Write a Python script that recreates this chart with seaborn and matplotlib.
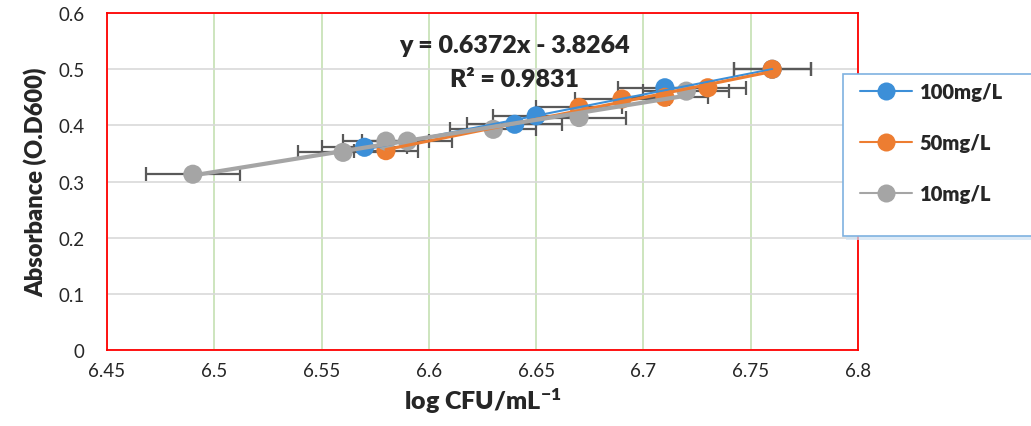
import numpy as np
import pandas as pd
import seaborn as sns
import matplotlib.pyplot as plt
from matplotlib.lines import Line2D
from matplotlib.patches import Rectangle

# data
x_100 = [6.57, 6.64, 6.65, 6.71, 6.76]
y_100 = [0.361, 0.402, 0.417, 0.467, 0.500]
e_100 = [0.020, 0.022, 0.020, 0.022, 0.018]

x_50 = [6.58, 6.67, 6.69, 6.71, 6.73, 6.76]
y_50 = [0.355, 0.432, 0.447, 0.450, 0.467, 0.500]
e_50 = [0.015, 0.020, 0.022, 0.020, 0.018, 0.018]

x_10 = [6.49, 6.56, 6.58, 6.59, 6.63, 6.67, 6.72]
y_10 = [0.313, 0.352, 0.372, 0.372, 0.393, 0.414, 0.461]
e_10 = [0.022, 0.021, 0.020, 0.021, 0.020, 0.022, 0.020]

labels = ["100mg/L", "50mg/L", "10mg/L"]
colors = ["#3c8fd8", "#ed7d31", "#a5a5a5"]
line_w = [1.5, 2.2, 3.0]

equation = "y = 0.6372x - 3.8264"
r2_text = "R² = 0.9831"

sns.set_style("white")
plt.rcParams["font.family"] = ["Lato", "DejaVu Sans"]
plt.rcParams["mathtext.default"] = "regular"

fig = plt.figure(figsize=(10.31, 4.27), dpi=100)
ax = fig.add_axes([0.1038, 0.178, 0.7284, 0.789])

series = [(x_100, y_100, e_100), (x_50, y_50, e_50), (x_10, y_10, e_10)]

for (xs, ys, es), lab, col, lw in zip(series, labels, colors, line_w):
    df = pd.DataFrame({"x": xs, "y": ys})
    ax.errorbar(xs, ys, xerr=es, fmt="none", ecolor="#595959",
                elinewidth=1.6, capsize=5, capthick=1.6, zorder=3)
    sns.regplot(data=df, x="x", y="y", ax=ax, ci=None, truncate=True,
                scatter_kws=dict(s=190, color=col, edgecolor="none",
                                 alpha=1, zorder=4),
                line_kws=dict(color=col, lw=lw, zorder=5))

ax.set_xlim(6.45, 6.8)
ax.set_ylim(0, 0.6)
ax.set_xticks(np.arange(6.45, 6.801, 0.05))
ax.set_xticklabels(["6.45", "6.5", "6.55", "6.6", "6.65", "6.7", "6.75", "6.8"])
ax.set_yticks(np.arange(0, 0.61, 0.1))
ax.set_yticklabels(["0", "0.1", "0.2", "0.3", "0.4", "0.5", "0.6"])
ax.tick_params(labelsize=13.5, length=0, pad=9)
ax.tick_params(axis="y", pad=16)

ax.grid(axis="x", color="#c5e0b3", lw=1.2)
ax.grid(axis="y", color="#d9d9d9", lw=1.2)
ax.set_axisbelow(True)
for s in ax.spines.values():
    s.set_color("#ff0000")
    s.set_linewidth(1.3)

ax.set_xlabel("log CFU/mL$^{-1}$", fontsize=18, fontweight="heavy", labelpad=4)
ax.set_ylabel("Absorbance (O.D600)", fontsize=17, fontweight="heavy", labelpad=8)

ax.text(0.543, 0.905, equation, transform=ax.transAxes, ha="center",
        va="center", fontsize=18, fontweight="heavy", zorder=6)
ax.text(0.543, 0.805, r2_text, transform=ax.transAxes, ha="center",
        va="center", fontsize=18, fontweight="heavy", zorder=6)

# legend box reaching past the right edge, as in the reference
W, H = 1031, 427
fig.patches.append(Rectangle((846 / W, 1 - 241 / H), 200 / W, 162 / H,
                             transform=fig.transFigure, facecolor="#cfe2f3",
                             edgecolor="none", alpha=0.7, zorder=1))
fig.patches.append(Rectangle((843 / W, 1 - 237 / H), 200 / W, 162 / H,
                             transform=fig.transFigure, facecolor="white",
                             edgecolor="#7fb2e0", lw=1.2, zorder=2))

handles = [Line2D([0], [0], color=c, lw=1.5, marker="o", markersize=13,
                  markeredgecolor="none") for c in colors]
leg = fig.legend(handles, labels, loc="upper left",
                 bbox_to_anchor=(852 / W, 1 - 75 / H), frameon=False,
                 prop=dict(size=14.5, weight="heavy"), handlelength=2.6,
                 labelspacing=1.6, borderpad=0.4, handletextpad=0.35,
                 borderaxespad=0)
leg.set_zorder(3)

fig.savefig("out.png", dpi=100)
